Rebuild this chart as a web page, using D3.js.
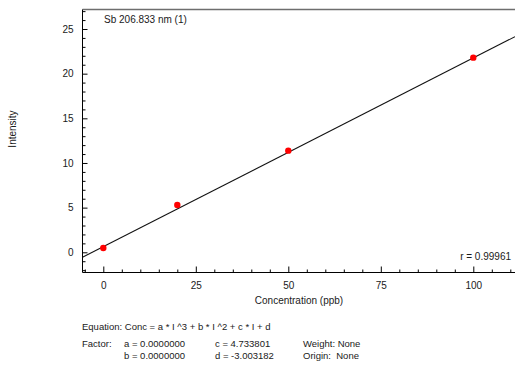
<!DOCTYPE html>
<html>
<head>
<meta charset="utf-8">
<script src="https://cdn.jsdelivr.net/npm/d3@7"></script>
<style>
  html, body { margin: 0; padding: 0; background: #fff; }
  svg { display: block; font-family: "Liberation Sans", Arial, sans-serif; }
  text { fill: #1a1a1a; }
</style>
</head>
<body>
<svg id="chart" width="515" height="369"></svg>
<script>
// Calibration standards: concentration (ppb) and measured intensity
const concentrations = [0, 20, 50, 100];
const intensities = [0.48, 5.30, 11.38, 21.79];

// Fitted calibration: Conc = a*I^3 + b*I^2 + c*I + d
const coefA = 0.0000000, coefB = 0.0000000, coefC = 4.733801, coefD = -3.003182;
const correlation = "0.99961";

const xMajorTicks = [0, 25, 50, 75, 100];
const yMajorTicks = [0, 5, 10, 15, 20, 25];

const svg = d3.select("#chart");
const plotLeft = 82.5, plotRight = 515, plotTop = 9.5, plotBottom = 272.5;

const x = d3.scaleLinear().domain([0, 100]).range([103.3, 473.3]);
const y = d3.scaleLinear().domain([0, 25]).range([252.3, 29.0]);

const xMin = x.invert(plotLeft), xMax = x.invert(plotRight);
const yMin = y.invert(plotBottom), yMax = y.invert(plotTop);

svg.append("clipPath").attr("id", "plotClip")
  .append("rect").attr("x", plotLeft).attr("y", plotTop)
  .attr("width", plotRight - plotLeft).attr("height", plotBottom - plotTop);

// frame: top edge
svg.append("line").attr("x1", plotLeft).attr("x2", plotRight).attr("y1", plotTop).attr("y2", plotTop)
  .attr("stroke", "#6e6e6e").attr("stroke-width", 1.3);

// minor ticks
const xMinor = d3.range(-5, 111, 5).filter(v => v >= xMin && v <= xMax && !xMajorTicks.includes(v));
const yMinor = d3.range(-2, 28, 1).filter(v => v >= yMin && v <= yMax && !yMajorTicks.includes(v));

const axisX = svg.append("g").attr("transform", `translate(0,${plotBottom})`);
axisX.append("g").call(d3.axisBottom(x).tickValues(xMinor).tickSize(-3).tickFormat(""));
axisX.append("g").call(d3.axisBottom(x).tickValues(xMajorTicks).tickSize(-6).tickPadding(9).tickFormat(d3.format("d")));
axisX.selectAll(".domain").remove();
axisX.append("line").attr("x1", plotLeft).attr("x2", plotRight).attr("stroke", "#000");

const axisY = svg.append("g").attr("transform", `translate(${plotLeft},0)`);
axisY.append("g").call(d3.axisLeft(y).tickValues(yMinor).tickSize(-3).tickFormat(""));
axisY.append("g").call(d3.axisLeft(y).tickValues(yMajorTicks).tickSize(-5).tickPadding(9).tickFormat(d3.format("d")));
axisY.selectAll(".domain").remove();
axisY.append("line").attr("y1", plotTop).attr("y2", plotBottom).attr("stroke", "#000");

svg.selectAll(".tick line").attr("stroke", "#000");
svg.selectAll(".tick text").attr("font-size", 10).attr("fill", "#1a1a1a")
  .attr("font-family", '"Liberation Sans", Arial, sans-serif');

// calibration line: I = (Conc - d) / c
const fitIntensity = c => (c - coefD) / coefC;
const lineData = [xMin, xMax].map(c => [c, fitIntensity(c)]);
svg.append("path")
  .attr("clip-path", "url(#plotClip)")
  .attr("d", d3.line().x(d => x(d[0])).y(d => y(d[1]))(lineData))
  .attr("fill", "none").attr("stroke", "#111").attr("stroke-width", 1.1);

// standards
svg.append("g").selectAll("circle")
  .data(concentrations.map((c, i) => [c, intensities[i]]))
  .join("circle")
  .attr("cx", d => x(d[0])).attr("cy", d => y(d[1]))
  .attr("r", 3.2).attr("fill", "#ff0000");

// labels
svg.append("text").attr("x", 104).attr("y", 22.5).attr("font-size", 10).text("Sb 206.833 nm (1)");
svg.append("text").attr("x", 511).attr("y", 259.5).attr("font-size", 10)
  .attr("text-anchor", "end").text("r = " + correlation);
svg.append("text").attr("transform", "translate(15.5,129) rotate(-90)")
  .attr("text-anchor", "middle").attr("font-size", 10).text("Intensity");
svg.append("text").attr("x", 299).attr("y", 303.5).attr("text-anchor", "middle")
  .attr("font-size", 10).text("Concentration (ppb)");

const fmt7 = d3.format(".7f"), fmt6 = d3.format(".6f");
const info = svg.append("g").attr("font-size", 9.5);
info.append("text").attr("x", 82).attr("y", 329.5).text("Equation: Conc = a * I ^3 + b * I ^2 + c * I + d");
info.append("text").attr("x", 82).attr("y", 347).text("Factor:");
info.append("text").attr("x", 124).attr("y", 347).text("a = " + fmt7(coefA));
info.append("text").attr("x", 124).attr("y", 358.5).text("b = " + fmt7(coefB));
info.append("text").attr("x", 215).attr("y", 347).text("c = " + fmt6(coefC));
info.append("text").attr("x", 215).attr("y", 358.5).text("d = " + fmt6(coefD).replace("−", "-"));
info.append("text").attr("x", 303).attr("y", 347).text("Weight: None");
info.append("text").attr("x", 303).attr("y", 358.5).attr("xml:space", "preserve").text("Origin:  None");
</script>
</body>
</html>
